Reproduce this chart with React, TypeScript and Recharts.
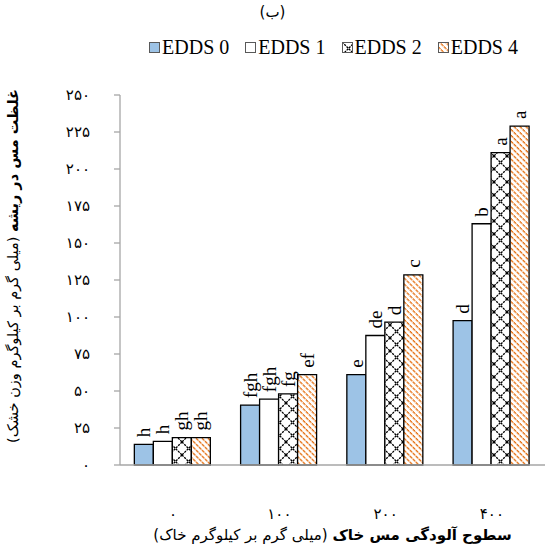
import React from "react";
import {
  BarChart,
  Bar,
  XAxis,
  YAxis,
  Legend,
  LabelList,
} from "recharts";

// copper levels in soil (mg/kg), Persian digits as printed
const levels = ["۰", "۱۰۰", "۲۰۰", "۴۰۰"];

// root Cu concentration per EDDS dose
const edds0 = [14, 40.5, 61, 97.5];
const edds1 = [16, 44.5, 87.5, 163];
const edds2 = [18.5, 48, 96.5, 211];
const edds4 = [18.5, 61, 128.5, 229];

// Duncan letters above the bars
const letters0 = ["h", "fgh", "e", "d"];
const letters1 = ["h", "fgh", "de", "b"];
const letters2 = ["gh", "fg", "d", "a"];
const letters4 = ["gh", "ef", "c", "a"];

const yTicks = [0, 25, 50, 75, 100, 125, 150, 175, 200, 225, 250];
const boundaryTicks = [0, 1, 2, 3, 4];

const seriesNames = ["EDDS 0", "EDDS 1", "EDDS 2", "EDDS 4"];

const data = levels.map((level, i) => ({
  level,
  e0: edds0[i],
  e1: edds1[i],
  e2: edds2[i],
  e4: edds4[i],
  l0: letters0[i],
  l1: letters1[i],
  l2: letters2[i],
  l4: letters4[i],
}));

const SERIF = "'Liberation Serif', 'Times New Roman', serif";
const FA = "'DejaVu Sans', sans-serif";
const AXIS = "#A6A6A6";
const BLUE = "#9DC3E6";
const ORANGE = "#E46C0A";

const toFa = (v: number | string) =>
  String(v).replace(/\d/g, (d) => "۰۱۲۳۴۵۶۷۸۹"[Number(d)]);

const Patterns = () => (
  <defs>
    <pattern id="cross" width="13" height="13" patternUnits="userSpaceOnUse">
      <rect width="13" height="13" fill="#fff" />
      <path d="M0 0 L13 13 M13 0 L0 13" stroke="#000" strokeWidth={1.3} strokeDasharray="2.2 1" />
    </pattern>
    <pattern id="stripes" width="4.2" height="4.2" patternUnits="userSpaceOnUse" patternTransform="rotate(-45)">
      <rect width="4.2" height="4.2" fill="#fff" />
      <line x1="1" y1="0" x2="1" y2="4.2" stroke={ORANGE} strokeWidth={1.3} strokeDasharray="2.4 0.8" />
    </pattern>
  </defs>
);

const BarLetter = (props: any) => {
  const { x, y, width, value } = props;
  const cx = Number(x) + Number(width) / 2;
  const ty = Number(y) - 7;
  return (
    <text
      x={cx}
      y={ty}
      transform={`rotate(-90 ${cx} ${ty})`}
      textAnchor="start"
      dominantBaseline="central"
      fontFamily={SERIF}
      fontSize={19}
      fill="#000"
    >
      {value}
    </text>
  );
};

const LegendIcon = ({ fill }: { fill: string }) => (
  <svg width="11" height="11" style={{ marginRight: 2 }}>
    <Patterns />
    <rect x="0.5" y="0.5" width="10" height="10" fill={fill} stroke="#595959" strokeWidth={1} />
  </svg>
);

const legendFills = [BLUE, "#fff", "url(#cross)", "url(#stripes)"];

const renderLegend = () => (
  <div
    style={{
      display: "flex",
      justifyContent: "center",
      alignItems: "center",
      gap: 16,
      fontFamily: SERIF,
      fontSize: 20,
      lineHeight: "24px",
      paddingLeft: 122,
    }}
  >
    {seriesNames.map((name, i) => (
      <span key={name} style={{ display: "flex", alignItems: "center" }}>
        <LegendIcon fill={legendFills[i]} />
        {name}
      </span>
    ))}
  </div>
);

const YTitle = (props: any) => {
  const { viewBox } = props;
  const x = viewBox.x + 13;
  const y = viewBox.y + viewBox.height / 2 - 14;
  return (
    <text
      x={x}
      y={y}
      transform={`rotate(-90 ${x} ${y})`}
      textAnchor="middle"
      dominantBaseline="central"
      direction="rtl"
      fontFamily={FA}
      fontSize={14.5}
      fill="#000"
    >
      <tspan fontWeight="bold">غلظت مس در ریشه</tspan>
      <tspan> (میلی گرم بر کیلوگرم وزن خشک)</tspan>
    </text>
  );
};

const XTitle = (props: any) => {
  const { viewBox } = props;
  const x = viewBox.x + viewBox.width / 2;
  const y = viewBox.y + 70;
  return (
    <text
      x={x}
      y={y}
      textAnchor="middle"
      dominantBaseline="central"
      direction="rtl"
      fontFamily={FA}
      fontSize={15}
      fill="#000"
    >
      <tspan fontWeight="bold">سطوح آلودگی مس خاک</tspan>
      <tspan> (میلی گرم بر کیلوگرم خاک)</tspan>
    </text>
  );
};

const App = () => {
  return (
    <div style={{ position: "absolute", left: 0, top: 0, width: 545, height: 549, background: "#fff" }}>
      <div
        style={{
          position: "absolute",
          top: 3,
          left: 0,
          width: 545,
          textAlign: "center",
          fontFamily: FA,
          fontSize: 15,
        }}
      >
        (ب)
      </div>
      <BarChart
        width={545}
        height={549}
        data={data}
        margin={{ top: 71, right: 0, bottom: 0, left: 0 }}
        barCategoryGap="13.5%"
        barGap={0}
      >
        <Patterns />
        <Legend verticalAlign="top" content={renderLegend} wrapperStyle={{ top: 35, left: 0, width: 545 }} />
        <XAxis
          xAxisId="bounds"
          type="number"
          domain={[0, 4]}
          ticks={boundaryTicks}
          tick={false}
          axisLine={false}
          tickLine={{ stroke: AXIS, strokeWidth: 1.3 }}
          tickSize={7}
          height={0}
        />
        <XAxis
          dataKey="level"
          height={84}
          tickLine={false}
          axisLine={{ stroke: AXIS, strokeWidth: 1.3 }}
          tick={{ fontFamily: FA, fontSize: 15, fill: "#000" }}
          tickMargin={37}
          label={{ content: XTitle }}
        />
        <YAxis
          width={120}
          domain={[0, 250]}
          ticks={yTicks}
          interval={0}
          tickFormatter={toFa}
          tickSize={6}
          tickMargin={24}
          axisLine={{ stroke: AXIS, strokeWidth: 1.3 }}
          tickLine={{ stroke: AXIS, strokeWidth: 1.3 }}
          tick={{ fontFamily: FA, fontSize: 15, fill: "#000" }}
          label={{ content: YTitle }}
        />
        <Bar dataKey="e0" name="EDDS 0" fill={BLUE} stroke="#000" strokeWidth={1.3} isAnimationActive={false}>
          <LabelList dataKey="l0" content={BarLetter} />
        </Bar>
        <Bar dataKey="e1" name="EDDS 1" fill="#fff" stroke="#000" strokeWidth={1.3} isAnimationActive={false}>
          <LabelList dataKey="l1" content={BarLetter} />
        </Bar>
        <Bar dataKey="e2" name="EDDS 2" fill="url(#cross)" stroke="#000" strokeWidth={1.3} isAnimationActive={false}>
          <LabelList dataKey="l2" content={BarLetter} />
        </Bar>
        <Bar dataKey="e4" name="EDDS 4" fill="url(#stripes)" stroke="#000" strokeWidth={1.3} isAnimationActive={false}>
          <LabelList dataKey="l4" content={BarLetter} />
        </Bar>
      </BarChart>
    </div>
  );
};

export default App;
